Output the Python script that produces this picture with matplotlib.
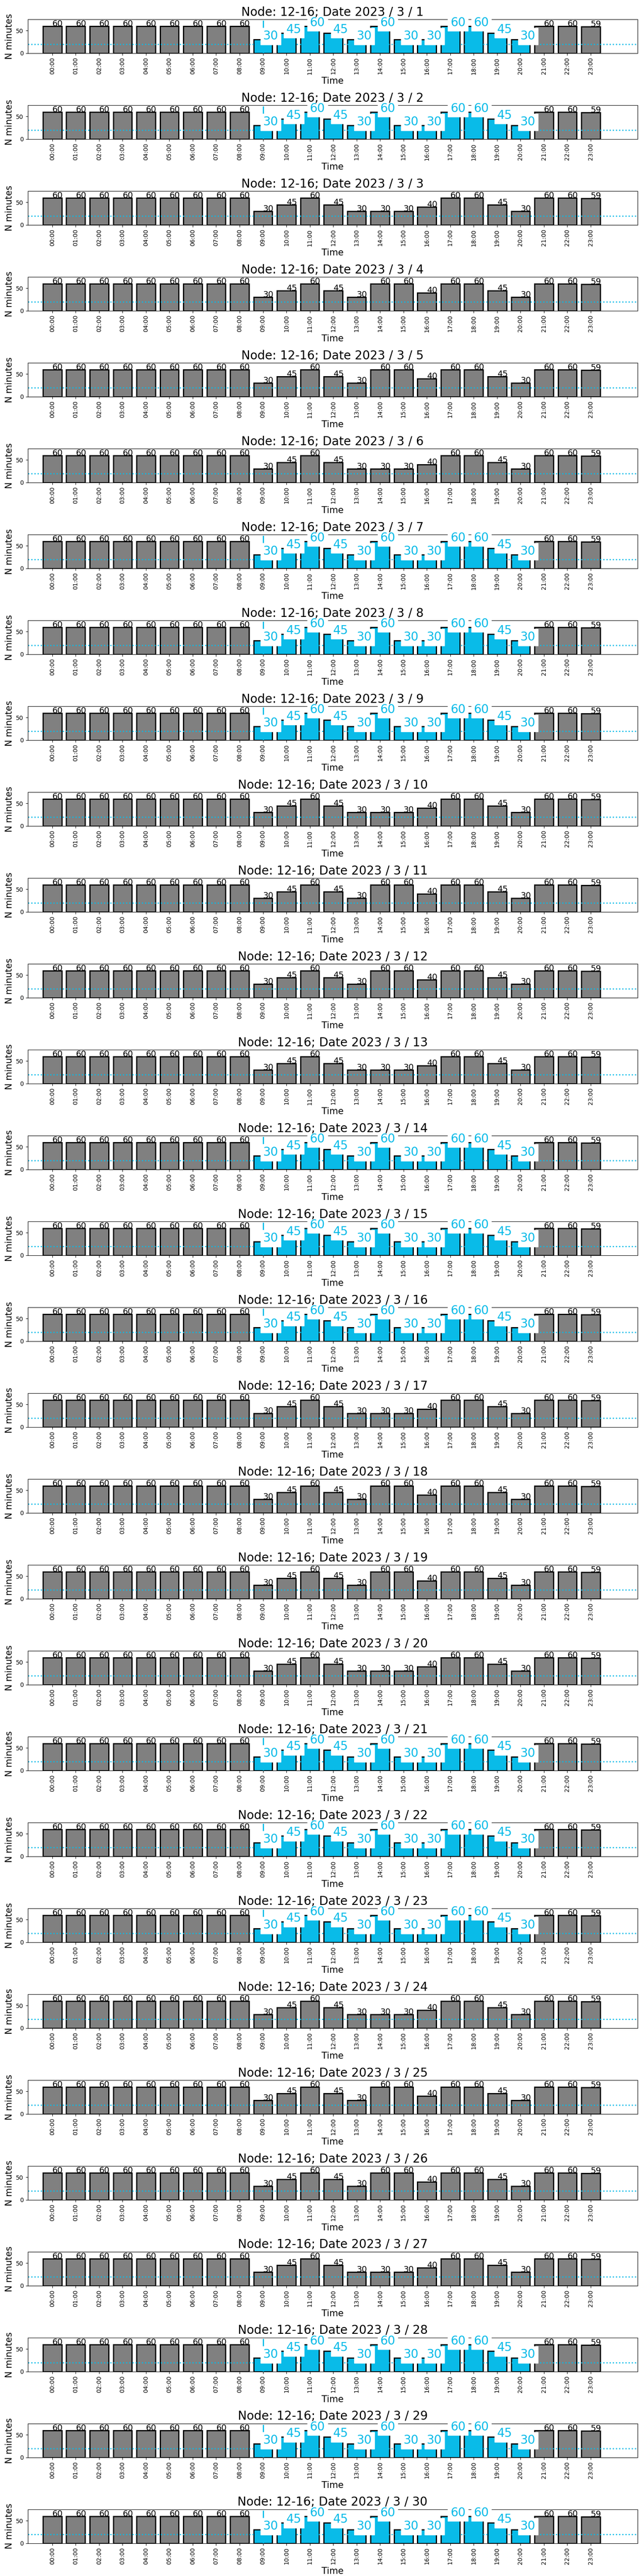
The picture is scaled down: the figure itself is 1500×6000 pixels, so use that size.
import matplotlib.pyplot as plt

hours = ["00:00", "01:00", "02:00", "03:00", "04:00", "05:00", "06:00", "07:00",
         "08:00", "09:00", "10:00", "11:00", "12:00", "13:00", "14:00", "15:00",
         "16:00", "17:00", "18:00", "19:00", "20:00", "21:00", "22:00", "23:00"]

days = list(range(1, 31))
# march 2023: 1st is a wednesday
day_kind = ["mid", "mid", "wd", "we", "we", "wd", "mid", "mid", "mid", "wd",
            "we", "we", "wd", "mid", "mid", "mid", "wd", "we", "we", "wd",
            "mid", "mid", "mid", "wd", "we", "we", "wd", "mid", "mid", "mid"]

# minutes per hour for each kind of day
weekday_min = [60, 60, 60, 60, 60, 60, 60, 60, 60, 30, 45, 60,
               45, 30, 30, 30, 40, 60, 60, 45, 30, 60, 60, 59]
weekend_min = [60, 60, 60, 60, 60, 60, 60, 60, 60, 30, 45, 60,
               45, 30, 60, 60, 40, 60, 60, 45, 30, 60, 60, 59]
midweek_min = [60, 60, 60, 60, 60, 60, 60, 60, 60, 30, 45, 60,
               45, 30, 60, 30, 30, 60, 60, 45, 30, 60, 60, 59]
minutes = {"wd": weekday_min, "we": weekend_min, "mid": midweek_min}

peak_hours = (9, 20)
threshold = 20

CYAN = "#09bbe8"

fig, axes = plt.subplots(30, 1, figsize=(15, 60), dpi=100)
fig.subplots_adjust(left=0.043, right=0.990, top=0.9925, bottom=0.0127, hspace=1.532)

for ax, day, kind in zip(axes, days, day_kind):
    vals = minutes[kind]
    hl = kind == "mid"
    colors = []
    for i in range(len(vals)):
        if hl and peak_hours[0] <= i <= peak_hours[1]:
            colors.append(CYAN)
        else:
            colors.append("gray")

    ax.bar(range(len(vals)), vals, width=0.8, color=colors, edgecolor="black", linewidth=2)
    for i, v in enumerate(vals):
        if colors[i] == CYAN:
            ax.text(i, v, str(v), color=CYAN, fontsize=20,
                    bbox=dict(facecolor="white", edgecolor="white"))
        else:
            ax.text(i, v, str(v), fontsize=14)

    ax.axhline(threshold, color=CYAN, ls=":", lw=2)
    if hl:
        ax.axvline(peak_hours[0], color=CYAN, ls="-.", lw=2)

    ax.set_xlim(-1.05, 25)
    ax.set_ylim(0, 75)
    ax.set_yticks([0, 50])
    ax.set_xticks(range(len(hours)))
    ax.set_xticklabels(hours, rotation=90)
    ax.set_xlabel("Time", fontsize=15)
    ax.set_ylabel("N minutes", fontsize=15)
    ax.set_title(f"Node: 12-16; Date 2023 / 3 / {day}", fontsize=20)

fig.savefig("out.png")
